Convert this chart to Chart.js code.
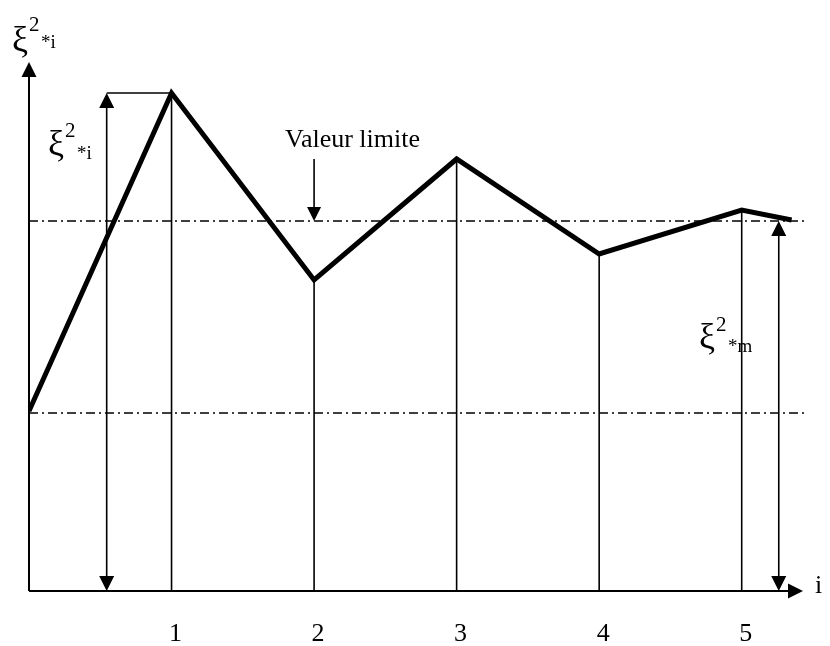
<!DOCTYPE html>
<html>
<head>
<meta charset="utf-8">
<script src="https://cdn.jsdelivr.net/npm/chart.js@4/dist/chart.umd.min.js"></script>
<style>
  html, body { margin: 0; padding: 0; background: #fff; }
  #wrap { width: 830px; height: 646px; }
</style>
</head>
<body>
<div id="wrap"><canvas id="xiChart" width="830" height="646"></canvas></div>
<script>
// iteration index and xi^2 values (arbitrary units)
const steps = [0, 1, 2, 3, 4, 5, 5.35];
const xi2 = [180, 498, 311, 432, 337, 381, 371];
const tickLabels = ['1', '2', '3', '4', '5'];
const limitValue = 370;   // valeur limite
const lowerValue = 178;
const xMax = 5.43;
const yMax = 529;

const SERIF = '"Liberation Serif", "DejaVu Serif", serif';

function arrowHead(ctx, x, y, dir, size) {
  // filled triangle with its tip at (x, y)
  const h = size, w = size / 2;
  ctx.beginPath();
  if (dir === 'up') { ctx.moveTo(x, y); ctx.lineTo(x - w, y + h); ctx.lineTo(x + w, y + h); }
  if (dir === 'down') { ctx.moveTo(x, y); ctx.lineTo(x - w, y - h); ctx.lineTo(x + w, y - h); }
  if (dir === 'right') { ctx.moveTo(x, y); ctx.lineTo(x - h, y - w); ctx.lineTo(x - h, y + w); }
  ctx.closePath();
  ctx.fill();
}

function line(ctx, x1, y1, x2, y2, w) {
  ctx.lineWidth = w;
  ctx.beginPath();
  ctx.moveTo(x1, y1);
  ctx.lineTo(x2, y2);
  ctx.stroke();
}

// xi with superscript 2 and subscript *sub
function xiLabel(ctx, x, base, supBase, subBase, sub) {
  ctx.textBaseline = 'alphabetic';
  ctx.textAlign = 'left';
  ctx.font = '36px ' + SERIF;
  ctx.fillText('\u03BE', x, base);
  const w = ctx.measureText('\u03BE').width;
  ctx.font = '21px ' + SERIF;
  ctx.fillText('2', x + w + 1, supBase);
  ctx.font = '19px ' + SERIF;
  ctx.fillText('*' + sub, x + w + 13, subBase);
}

const drawing = {
  id: 'drawing',
  beforeDatasetsDraw(chart) {
    const ctx = chart.ctx;
    const xs = chart.scales.x, ys = chart.scales.y;
    const x0 = xs.getPixelForValue(0), y0 = ys.getPixelForValue(0);
    const xEnd = xs.getPixelForValue(xMax), yTop = ys.getPixelForValue(yMax);
    ctx.save();
    ctx.strokeStyle = '#000';
    ctx.fillStyle = '#000';

    // dash-dot reference lines
    ctx.setLineDash([9, 4, 2, 4]);
    [limitValue, lowerValue].forEach(v => {
      const yy = ys.getPixelForValue(v);
      line(ctx, x0, yy, xEnd + 2, yy, 1.5);
    });
    ctx.setLineDash([]);

    // drop lines from each iteration down to the axis
    for (let k = 1; k <= 5; k++) {
      const px = xs.getPixelForValue(steps[k]);
      line(ctx, px, ys.getPixelForValue(xi2[k]), px, y0, 1.6);
    }

    // axes with arrows
    line(ctx, x0, y0, x0, yTop + 10, 2);
    arrowHead(ctx, x0, yTop, 'up', 15);
    line(ctx, x0, y0, xEnd - 10, y0, 2.2);
    arrowHead(ctx, xEnd, y0, 'right', 15);

    // double arrow for the first xi^2
    const xa = xs.getPixelForValue(0.545);
    const yPeak = ys.getPixelForValue(xi2[1]);
    line(ctx, xa, yPeak, xs.getPixelForValue(steps[1]), yPeak, 1.5);
    line(ctx, xa, yPeak + 10, xa, y0 - 10, 1.6);
    arrowHead(ctx, xa, yPeak, 'up', 15);
    arrowHead(ctx, xa, y0, 'down', 15);

    // double arrow for xi^2_m
    const xb = xs.getPixelForValue(5.26);
    const yLim = ys.getPixelForValue(limitValue);
    line(ctx, xb, yLim + 10, xb, y0 - 10, 1.6);
    arrowHead(ctx, xb, yLim, 'up', 15);
    arrowHead(ctx, xb, y0, 'down', 15);

    // valeur limite pointer
    const xv = xs.getPixelForValue(steps[2]);
    line(ctx, xv, yLim - 62, xv, yLim - 10, 1.6);
    arrowHead(ctx, xv, yLim, 'down', 14);
    ctx.restore();
  },
  afterDraw(chart) {
    const ctx = chart.ctx;
    const xs = chart.scales.x, ys = chart.scales.y;
    const y0 = ys.getPixelForValue(0);
    ctx.save();
    ctx.fillStyle = '#000';

    // tick labels
    ctx.font = '26px ' + SERIF;
    ctx.textAlign = 'center';
    ctx.textBaseline = 'alphabetic';
    tickLabels.forEach((t, k) => {
      ctx.fillText(t, xs.getPixelForValue(k + 1) + 4, y0 + 50);
    });
    ctx.textAlign = 'left';
    ctx.fillText('i', 815, y0 + 2);

    ctx.fillText('Valeur limite', 285, 147);

    xiLabel(ctx, 12, 51, 31, 48, 'i');
    xiLabel(ctx, 48, 155, 137, 159, 'i');
    xiLabel(ctx, 699, 348, 331, 352, 'm');
    ctx.restore();
  }
};

new Chart(document.getElementById('xiChart').getContext('2d'), {
  type: 'line',
  data: {
    datasets: [{
      data: steps.map((s, k) => ({ x: s, y: xi2[k] })),
      borderColor: '#000',
      borderWidth: 5,
      pointRadius: 0,
      tension: 0,
      borderJoinStyle: 'miter'
    }]
  },
  options: {
    responsive: false,
    animation: false,
    layout: { padding: { left: 29, right: 27, top: 62, bottom: 55 } },
    scales: {
      x: { type: 'linear', min: 0, max: xMax, display: false },
      y: { min: 0, max: yMax, display: false }
    },
    plugins: {
      legend: { display: false },
      tooltip: { enabled: false }
    }
  },
  plugins: [drawing]
});
</script>
</body>
</html>
